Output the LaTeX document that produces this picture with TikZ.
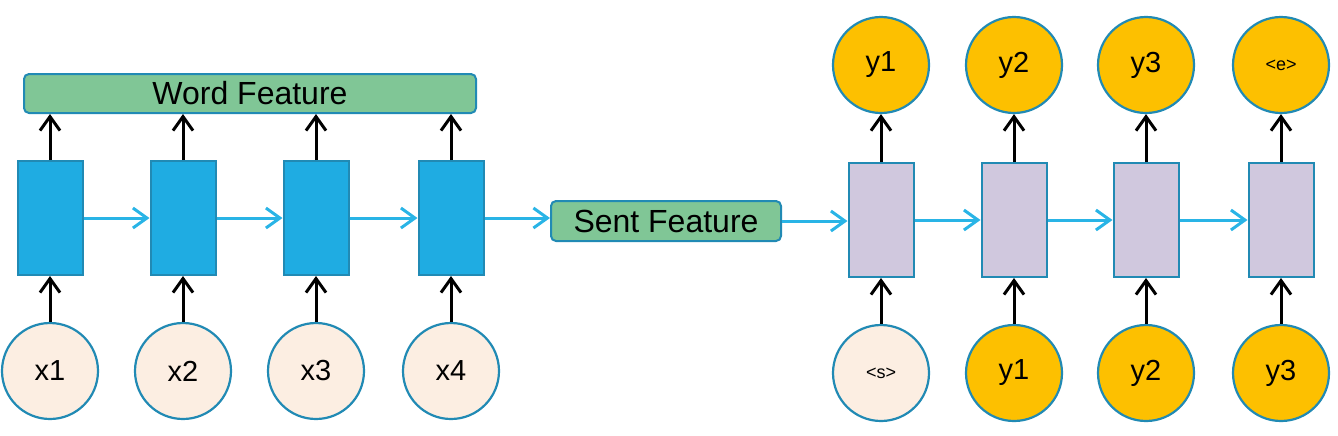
\documentclass[tikz,border=0pt]{standalone}
\usepackage{fontspec}
\setmainfont{Liberation Sans}
\usetikzlibrary{arrows.meta}
\definecolor{cellblue}{RGB}{31,172,226}
\definecolor{edgeblue}{RGB}{33,138,180}
\definecolor{flowblue}{RGB}{41,180,230}
\definecolor{cellpurple}{RGB}{208,200,222}
\definecolor{featgreen}{RGB}{128,198,150}
\definecolor{tokorange}{RGB}{253,192,0}
\definecolor{tokcream}{RGB}{252,238,226}

\begin{document}
\begin{tikzpicture}[x=0.5pt,y=-0.5pt]
    \tikzstyle{every node}=[inner sep=0pt, font=\fontsize{14.5}{16}\selectfont]
    \tikzstyle{enc}=[draw=edgeblue, fill=cellblue, line width=1pt, minimum width=32.5pt, minimum height=57pt]
    \tikzstyle{dec}=[draw=edgeblue, fill=cellpurple, line width=1pt, minimum width=32.5pt, minimum height=57pt]
    \tikzstyle{feat}=[draw=edgeblue, fill=featgreen, line width=1pt, rounded corners=2.5pt, font=\fontsize{16}{18}\selectfont]
    \tikzstyle{tok}=[circle, draw=edgeblue, fill=tokcream, line width=1.1pt, minimum size=48pt]
    \tikzstyle{outtok}=[tok, fill=tokorange]
    \tikzstyle{up}=[-{Straight Barb[length=7pt,width=10pt]}, line width=1.5pt, black]
    \tikzstyle{flow}=[-{Straight Barb[length=7pt,width=10pt]}, line width=1.5pt, flowblue]
    \useasboundingbox (0,0) rectangle (1338,435);

    % encoder
    \node[enc] (e1) at (50,218) {};
    \node[enc] (e2) at (183,218) {};
    \node[enc] (e3) at (316,218) {};
    \node[enc] (e4) at (451,218) {};
    \node[tok] (x1) at (50,371) {x1};
    \node[tok] (x2) at (183,371) {x2};
    \node[tok] (x3) at (316,371) {x3};
    \node[tok] (x4) at (451,371) {x4};
    \node[feat, minimum width=226pt, minimum height=19.5pt] (word) at (250,93.5) {Word Feature};
    \node[feat, minimum width=115pt, minimum height=20pt] (sent) at (666,221) {Sent Feature};

    % decoder
    \node[dec] (d1) at (881,220) {};
    \node[dec] (d2) at (1014,220) {};
    \node[dec] (d3) at (1146,220) {};
    \node[dec] (d4) at (1281,220) {};
    \node[tok, font=\fontsize{9}{10}\selectfont] (i1) at (881,373) {<s>};
    \node[outtok] (i2) at (1014,373) {y1};
    \node[outtok] (i3) at (1146,373) {y2};
    \node[outtok] (i4) at (1281,373) {y3};
    \node[outtok] (o1) at (881,65) {y1};
    \node[outtok] (o2) at (1014,65) {y2};
    \node[outtok] (o3) at (1146,65) {y3};
    \node[outtok, font=\fontsize{9}{10}\selectfont] (o4) at (1281,65) {<e>};

    \draw[up] (x1) -- (e1);
    \draw[up] (x2) -- (e2);
    \draw[up] (x3) -- (e3);
    \draw[up] (x4) -- (e4);
    \draw[up] (e1.north) -- (e1.north |- word.south);
    \draw[up] (e2.north) -- (e2.north |- word.south);
    \draw[up] (e3.north) -- (e3.north |- word.south);
    \draw[up] (e4.north) -- (e4.north |- word.south);
    \draw[up] (i1) -- (d1);
    \draw[up] (i2) -- (d2);
    \draw[up] (i3) -- (d3);
    \draw[up] (i4) -- (d4);
    \draw[up] (d1) -- (o1);
    \draw[up] (d2) -- (o2);
    \draw[up] (d3) -- (o3);
    \draw[up] (d4) -- (o4);

    \draw[flow] (e1) -- (e2);
    \draw[flow] (e2) -- (e3);
    \draw[flow] (e3) -- (e4);
    \draw[flow] (e4.east) -- (e4.east -| sent.west);
    \draw[flow] (sent.east) -- (sent.east -| d1.west);
    \draw[flow] (d1) -- (d2);
    \draw[flow] (d2) -- (d3);
    \draw[flow] (d3) -- (d4);
\end{tikzpicture}
\end{document}
